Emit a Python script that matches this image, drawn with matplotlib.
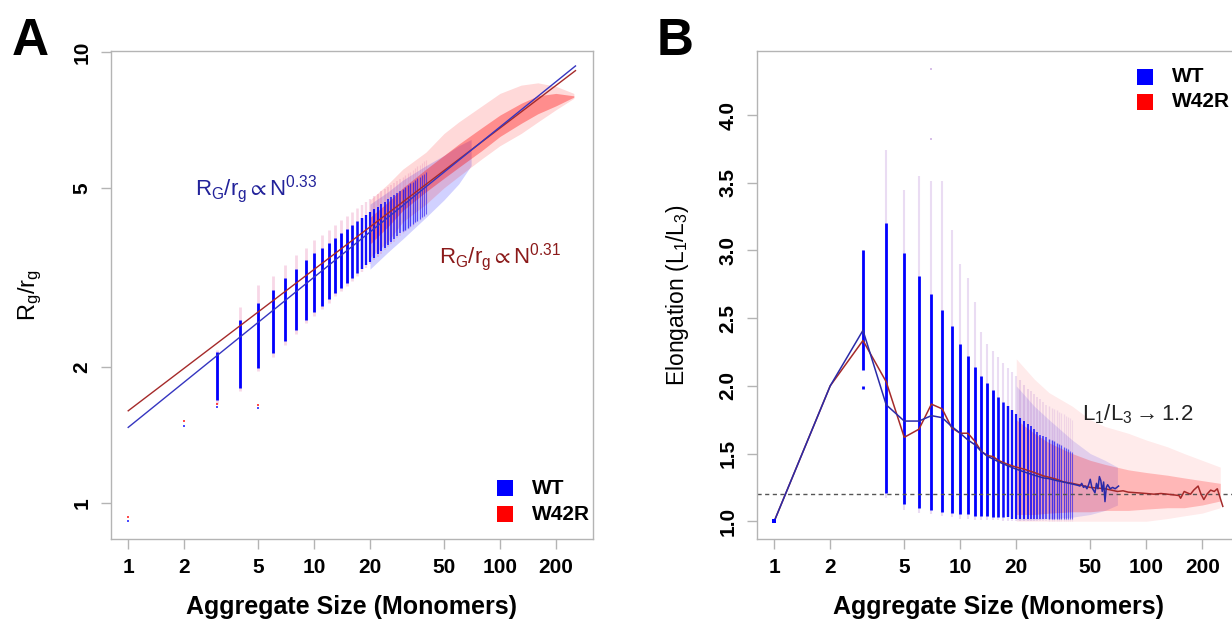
import numpy as np
import matplotlib.pyplot as plt
from matplotlib.colors import to_rgba
from matplotlib.ticker import FixedLocator, NullLocator

plt.rcParams['font.family'] = ['Liberation Sans', 'DejaVu Sans']
plt.rcParams['mathtext.fontset'] = 'custom'
plt.rcParams['mathtext.rm'] = 'Liberation Sans'
plt.rcParams['mathtext.it'] = 'Liberation Sans'
plt.rcParams['mathtext.bf'] = 'Liberation Sans:bold'
plt.rcParams['mathtext.fallback'] = 'stixsans'

# ---------------- panel A data (Rg/rg vs aggregate size) ----------------
fitA_n = [1, 255]
A_wt_fit = [1.47, 9.32]
A_w42r_fit = [1.60, 9.10]

colA_n = list(range(3, 41))
A_wt_lo = [1.69, 1.80, 1.99, 2.15, 2.28, 2.42, 2.55, 2.65, 2.74, 2.83, 2.92, 3.00, 3.08, 3.16,
           3.23, 3.30, 3.37, 3.43, 3.50, 3.56, 3.62, 3.68, 3.74, 3.80, 3.85, 3.91, 3.96, 4.01,
           4.04, 4.08, 4.12, 4.15, 4.19, 4.23, 4.26, 4.30, 4.34, 4.38]
A_wt_hi = [2.16, 2.54, 2.77, 2.97, 3.15, 3.30, 3.45, 3.58, 3.68, 3.78, 3.87, 3.96, 4.05, 4.13,
           4.21, 4.28, 4.35, 4.42, 4.48, 4.54, 4.60, 4.66, 4.72, 4.78, 4.83, 4.88, 4.93, 4.98,
           5.02, 5.07, 5.12, 5.16, 5.21, 5.25, 5.29, 5.33, 5.37, 5.41]
A_w42r_lo = [1.66, 1.77, 1.96, 2.11, 2.24, 2.37, 2.50, 2.60, 2.69, 2.78, 2.87, 2.95, 3.03, 3.11,
             3.18, 3.25, 3.32, 3.38, 3.45, 3.51, 3.57, 3.63, 3.69, 3.75, 3.80, 3.86, 3.91, 3.96,
             4.00, 4.05, 4.09, 4.12, 4.17, 4.21, 4.25, 4.29, 4.33, 4.37]
A_w42r_hi = [2.18, 2.72, 3.05, 3.18, 3.37, 3.55, 3.68, 3.82, 3.93, 4.04, 4.14, 4.24, 4.33, 4.42,
             4.50, 4.58, 4.65, 4.72, 4.79, 4.85, 4.91, 4.97, 5.03, 5.08, 5.13, 5.18, 5.23, 5.28,
             5.33, 5.38, 5.43, 5.48, 5.53, 5.58, 5.63, 5.68, 5.72, 5.77]

cloudA_n = [20, 25, 30, 40, 50, 60, 80, 100, 130, 160, 200, 250]
A_red_out_hi = [4.7, 5.1, 5.5, 6.0, 6.6, 7.0, 7.6, 8.1, 8.45, 8.55, 8.4, 8.1]
A_red_out_lo = [3.5, 3.8, 4.2, 4.6, 5.0, 5.3, 5.8, 6.2, 6.6, 7.0, 7.45, 7.9]
A_red_in_hi = [4.3, 4.65, 5.0, 5.5, 5.9, 6.25, 6.8, 7.25, 7.7, 8.0, 8.1, 8.0]
A_red_in_lo = [3.75, 4.1, 4.45, 4.9, 5.25, 5.55, 6.05, 6.5, 6.95, 7.3, 7.6, 7.95]
cloudA_wt_n = [20, 25, 30, 40, 50, 60, 70]
A_wt_out_hi = [4.6, 4.9, 5.2, 5.6, 5.9, 6.2, 6.4]
A_wt_out_lo = [3.3, 3.6, 3.85, 4.3, 4.7, 5.1, 5.6]

A_dot_wt_n = [1, 2, 3, 5]
A_dot_wt_v = [0.911, 1.48, 1.63, 1.62]
A_dot_red_n = [1, 2, 3, 5]
A_dot_red_v = [0.928, 1.516, 1.66, 1.65]

# ---------------- panel B data (elongation vs aggregate size) ----------------
B_wt_n = [1, 2, 3, 4, 5, 6, 7, 8, 9, 10, 11, 12, 13, 14, 15, 16, 18, 20, 22, 25, 28, 30, 33, 36,
          40, 43, 44, 45, 46, 47, 48, 49, 50, 51, 52, 53, 54, 55, 56, 57, 58, 59, 60, 61, 62,
          64, 66, 68, 71]
B_wt_mean = [1.00, 2.00, 2.41, 1.86, 1.74, 1.74, 1.78, 1.765, 1.70, 1.65, 1.60, 1.565, 1.515,
             1.48, 1.46, 1.44, 1.41, 1.385, 1.365, 1.34, 1.32, 1.315, 1.30, 1.29, 1.275, 1.265,
             1.26, 1.28, 1.25, 1.26, 1.24, 1.27, 1.31, 1.25, 1.23, 1.21, 1.28, 1.24, 1.33, 1.30,
             1.22, 1.29, 1.145, 1.25, 1.27, 1.24, 1.25, 1.24, 1.26]
B_w42r_n = [1, 2, 3, 4, 5, 6, 7, 8, 9, 10, 11, 12, 13, 14, 15, 16, 18, 20, 22, 25, 28, 30, 33, 36,
            40, 45, 50, 55, 60, 65, 70, 75, 80, 90, 100, 110, 120, 130, 140, 150, 153, 160, 166,
            173, 180, 190, 197, 204, 212, 222, 232, 241, 250, 258]
B_w42r_mean = [1.00, 2.00, 2.335, 2.03, 1.62, 1.68, 1.865, 1.83, 1.69, 1.65, 1.65, 1.59, 1.515,
               1.485, 1.478, 1.45, 1.42, 1.40, 1.385, 1.36, 1.335, 1.325, 1.31, 1.29, 1.28,
               1.265, 1.25, 1.245, 1.24, 1.23, 1.22, 1.225, 1.215, 1.21, 1.205, 1.20, 1.205,
               1.20, 1.195, 1.19, 1.17, 1.22, 1.21, 1.20, 1.23, 1.26, 1.20, 1.16, 1.20, 1.23,
               1.22, 1.24, 1.17, 1.11]

colB_n = list(range(3, 41))
B_wt_lo = [2.12, 1.21, 1.13, 1.10, 1.08, 1.07, 1.06, 1.05, 1.05, 1.04, 1.04, 1.04, 1.03, 1.03,
           1.03, 1.03, 1.02, 1.02, 1.02, 1.02, 1.02, 1.02, 1.02, 1.02, 1.02, 1.02, 1.02, 1.02,
           1.02, 1.02, 1.02, 1.02, 1.02, 1.02, 1.02, 1.02, 1.02, 1.02]
B_wt_hi = [3.00, 3.20, 2.98, 2.81, 2.68, 2.56, 2.44, 2.31, 2.22, 2.14, 2.07, 2.02, 1.97, 1.92,
           1.88, 1.85, 1.82, 1.79, 1.76, 1.74, 1.72, 1.70, 1.68, 1.66, 1.64, 1.63, 1.62, 1.61,
           1.60, 1.59, 1.58, 1.57, 1.56, 1.55, 1.54, 1.53, 1.52, 1.51]
B_mix_lo = [2.12, 1.17, 1.08, 1.06, 1.05, 1.04, 1.03, 1.02, 1.02, 1.01, 1.01, 1.01, 1.01, 1.01,
            1.00, 1.00, 1.00, 1.00, 1.00, 1.00, 1.00, 1.00, 1.00, 1.00, 1.00, 1.00, 1.00, 1.00,
            1.00, 1.00, 1.00, 1.00, 1.00, 1.00, 1.00, 1.00, 1.00, 1.00]
B_mix_hi = [3.00, 3.74, 3.45, 3.55, 3.51, 3.51, 3.15, 2.90, 2.80, 2.62, 2.40, 2.31, 2.26, 2.21,
            2.17, 2.13, 2.10, 2.07, 2.04, 2.01, 1.98, 1.96, 1.94, 1.92, 1.90, 1.88, 1.86, 1.85,
            1.84, 1.83, 1.82, 1.81, 1.80, 1.79, 1.78, 1.77, 1.76, 1.75]

cloudB_n = [20, 25, 30, 40, 50, 60, 80, 100, 130, 160, 200, 250]
B_red_out_hi = [2.2, 2.05, 1.95, 1.85, 1.75, 1.7, 1.65, 1.6, 1.55, 1.5, 1.45, 1.4]
B_red_out_lo = [1.0, 1.0, 1.0, 1.0, 1.0, 1.0, 1.0, 1.0, 1.02, 1.04, 1.06, 1.1]
B_red_in_hi = [1.75, 1.65, 1.58, 1.5, 1.45, 1.42, 1.38, 1.36, 1.34, 1.32, 1.30, 1.28]
B_red_in_lo = [1.05, 1.05, 1.06, 1.07, 1.07, 1.08, 1.08, 1.09, 1.1, 1.1, 1.12, 1.15]
cloudB_wt_n = [20, 25, 30, 40, 50, 60, 70]
B_wt_out_hi = [2.0, 1.85, 1.75, 1.6, 1.5, 1.45, 1.4]
B_wt_out_lo = [1.01, 1.01, 1.02, 1.03, 1.05, 1.08, 1.12]

B_n3_piece = [1.98, 2.00]
B_out_n = [7, 7]
B_out_v = [4.34, 3.82]
B_limit = 1.2

size_ticks = [1, 2, 5, 10, 20, 50, 100, 200]

BLUE = '#0000ff'
RED = '#ff0000'

W, H = 1232, 624
fig = plt.figure(figsize=(W / 100, H / 100), dpi=100)


def px_axes(l, r, t, b):
    return fig.add_axes([l / W, 1 - b / H, (r - l) / W, (b - t) / H])


axA = px_axes(110.7, 593.3, 51, 539)
axB = px_axes(756.7, 1239.7, 51, 539)


def col_colors(ns, base, a0, a1):
    # fade columns as they crowd together
    out = []
    for n in ns:
        a = a0 if n <= 15 else max(a1, a0 - (n - 15) * (a0 - a1) / 25)
        out.append(to_rgba(base, a))
    return out


def col_widths(ns, w):
    return [min(w, 0.55 * 186 * np.log10((n + 1) / n) * 0.72) for n in ns]


# ---------------- panel A ----------------
ax = axA
ax.set_xscale('log')
ax.set_yscale('log')
ax.fill_between(cloudA_wt_n, A_wt_out_lo, A_wt_out_hi, color=BLUE, alpha=0.18, lw=0)
ax.vlines(colA_n, A_w42r_lo, A_w42r_hi, colors=col_colors(colA_n, '#e060a0', 0.25, 0.2),
          linewidths=col_widths(colA_n, 2.0))
ax.vlines(colA_n, A_wt_lo, A_wt_hi, colors=col_colors(colA_n, BLUE, 1.0, 0.5),
          linewidths=col_widths(colA_n, 2.0))
ax.fill_between(cloudA_n, A_red_out_lo, A_red_out_hi, color=RED, alpha=0.15, lw=0)
ax.fill_between(cloudA_n, A_red_in_lo, A_red_in_hi, color=RED, alpha=0.35, lw=0)
ax.plot(A_dot_red_n, A_dot_red_v, 's', color=RED, ms=2, alpha=0.7, mew=0)
ax.plot(A_dot_wt_n, A_dot_wt_v, 's', color=BLUE, ms=2, alpha=0.7, mew=0)
ax.plot(fitA_n, A_w42r_fit, color='#a52a2a', lw=1)
ax.plot(fitA_n, A_wt_fit, color='#3535c0', lw=1)

ax.text(2.3, 4.82, r'$\mathrm{R_G / r_g \propto N^{0.33}}$', color='#22229a', fontsize=16,
        va='baseline', ha='left')
ax.text(47.3, 3.40, r'$\mathrm{R_G / r_g \propto N^{0.31}}$', color='#8b1a1a', fontsize=16,
        va='baseline', ha='left')

ax.set_xlim(0.805, 318)
ax.set_ylim(0.831, 10.06)
ax.yaxis.set_major_locator(FixedLocator([1, 2, 5, 10]))
ax.set_yticklabels(['1', '2', '5', '10'])
ax.set_ylabel(r'$\mathrm{R_g / r_g}$', fontsize=17)
ax.yaxis.set_label_coords(-0.138, 0.5)

# ---------------- panel B ----------------
ax = axB
ax.set_xscale('log')
ax.fill_between(cloudB_wt_n, B_wt_out_lo, B_wt_out_hi, color=BLUE, alpha=0.12, lw=0)
ax.vlines(colB_n, B_mix_lo, B_mix_hi, colors=col_colors(colB_n, '#9040c0', 0.18, 0.12),
          linewidths=col_widths(colB_n, 1.5))
ax.vlines(colB_n, B_wt_lo, B_wt_hi, colors=col_colors(colB_n, BLUE, 1.0, 0.5),
          linewidths=col_widths(colB_n, 2.0))
ax.vlines([3], B_n3_piece[0], B_n3_piece[1], colors=BLUE, linewidths=2)
ax.fill_between(cloudB_n, B_red_out_lo, B_red_out_hi, color=RED, alpha=0.08, lw=0)
ax.fill_between(cloudB_n, B_red_in_lo, B_red_in_hi, color=RED, alpha=0.22, lw=0)
ax.plot(B_out_n, B_out_v, 's', color='#b080d0', ms=2, alpha=0.5, mew=0)
ax.axhline(B_limit, color='#555555', lw=1, ls=(0, (3, 2.5)))
ax.plot(B_w42r_n, B_w42r_mean, color='#a52a2a', lw=1.1)
ax.plot(B_wt_n, B_wt_mean, color='#2a2aa8', lw=1.1)
ax.plot([1], [1.0], 's', color=BLUE, ms=2.5, mew=0)

ax.text(45.2, 1.743, r'$\mathrm{L_1 / L_3 \rightarrow 1.2}$', color='#222222', fontsize=16,
        va='baseline', ha='left')

ax.set_xlim(0.805, 318)
ax.set_ylim(0.869, 4.473)
ax.yaxis.set_major_locator(FixedLocator([1.0, 1.5, 2.0, 2.5, 3.0, 3.5, 4.0]))
ax.set_yticklabels(['1.0', '1.5', '2.0', '2.5', '3.0', '3.5', '4.0'])
ax.set_ylabel(r'$\mathrm{Elongation\ (L_1 / L_3)}$', fontsize=16.5)
ax.yaxis.set_label_coords(-0.136, 0.5)

# ---------------- shared styling ----------------
for ax in (axA, axB):
    ax.xaxis.set_major_locator(FixedLocator(size_ticks))
    ax.set_xticklabels([str(t) for t in size_ticks])
    ax.xaxis.set_minor_locator(NullLocator())
    ax.yaxis.set_minor_locator(NullLocator())
    for s in ax.spines.values():
        s.set_color('#b4b4b4')
        s.set_linewidth(1)
    ax.tick_params(direction='out', length=7, width=1, color='#b4b4b4', pad=7,
                   labelsize=15)
    ax.tick_params(axis='y', labelrotation=90)
    for lab in ax.get_xticklabels() + ax.get_yticklabels():
        lab.set_fontweight('bold')
    for lab in ax.get_yticklabels():
        lab.set_va('center')
    ax.set_xlabel('Aggregate Size (Monomers)', fontsize=18, fontweight='bold')
    ax.xaxis.set_label_coords(0.5, -0.139)
    ax.xaxis.label.set_va('center')

# legends drawn by hand at fixed spots
legend_spots = {axA: (0.817, 0.873, [0.104, 0.051]), axB: (0.804, 0.859, [0.947, 0.896])}
for ax, (sx, tx, ys) in legend_spots.items():
    for y, c, name in zip(ys, [BLUE, RED], ['WT', 'W42R']):
        ax.plot([sx], [y], 's', color=c, ms=11, mew=0, transform=ax.transAxes, clip_on=False)
        ax.text(tx, y, name, transform=ax.transAxes, fontsize=15, fontweight='bold',
                va='center', ha='left')

fig.text(12 / W, 1 - 55 / H, 'A', fontsize=37, fontweight='bold', va='baseline', ha='left')
fig.text(657 / W, 1 - 55 / H, 'B', fontsize=37, fontweight='bold', va='baseline', ha='left')

fig.savefig('out.png', dpi=100)
